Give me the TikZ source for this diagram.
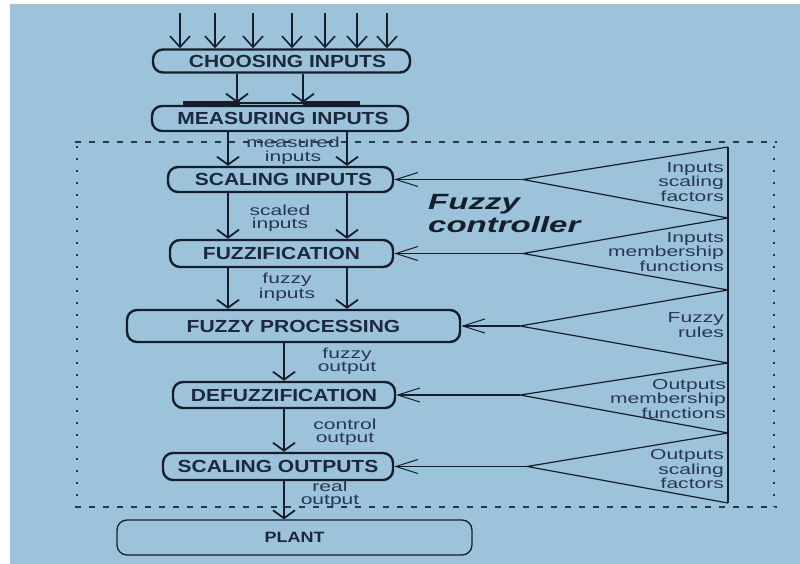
\documentclass[tikz,border=0pt]{standalone}
\usepackage{fontspec}
\setmainfont{Liberation Sans}
\newfontfamily\boxfont[FakeStretch=1.2]{Liberation Sans}
\newfontfamily\lblfont[FakeStretch=1.45]{Liberation Sans}
\newfontfamily\ttlfont[FakeStretch=1.5]{Liberation Sans}
\usetikzlibrary{arrows.meta,calc}
\definecolor{bgblue}{RGB}{157,195,218}
\definecolor{linec}{RGB}{22,30,44}
\definecolor{boxtxt}{RGB}{28,40,60}
\definecolor{lbltxt}{RGB}{40,55,82}
\definecolor{framec}{RGB}{40,55,75}
\begin{document}
\begin{tikzpicture}[x=1pt,y=-1pt,
  procbox/.style={draw=linec,line width=2.4pt,rounded corners=10pt,inner sep=0pt,text=boxtxt,
    font=\boxfont\bfseries\fontsize{17.5}{18}\selectfont},
  plantbox/.style={draw=linec,line width=1.3pt,rounded corners=10pt,inner sep=0pt,text=boxtxt,
    font=\boxfont\bfseries\fontsize{15}{16}\selectfont},
  flow/.style={draw=linec,line width=2.2pt,-{Straight Barb[length=8pt,width=22pt,line width=1.8pt]}},
  inarrow/.style={draw=linec,line width=1.8pt,-{Straight Barb[length=11pt,width=20pt,line width=1.6pt]}},
  feed/.style={draw=linec,line width=1.2pt},
  feedarrow/.style={feed,-{Straight Barb[length=22pt,width=14pt,line width=1pt]}},
  lbl/.style={text=lbltxt,align=center,inner sep=0pt,font=\lblfont\fontsize{14.5}{13.5}\selectfont},
  rlbl/.style={lbl,align=right,anchor=east},
  framedash/.style={draw=framec,line width=1.2pt,dash pattern=on 6pt off 8pt},
  framedot/.style={draw=framec,line width=1.2pt,dash pattern=on 2pt off 10pt},
]
\useasboundingbox (0,0) rectangle (800,564);
\fill[white] (0,0) rectangle (800,564);
\fill[bgblue] (10,4) rectangle (800,564);

% boxes
\node[procbox,minimum width=257pt,minimum height=23pt] (choose) at (281.5,61) {\hspace{12pt}CHOOSING INPUTS};
\node[procbox,minimum width=256pt,minimum height=25pt] (measure) at (280,118.5) {\hspace{6pt}MEASURING INPUTS};
\node[procbox,minimum width=225pt,minimum height=25pt] (scalein) at (280.5,179.5) {\hspace{6pt}SCALING INPUTS};
\node[procbox,minimum width=223pt,minimum height=27pt] (fuzzif) at (281.5,253.5) {FUZZIFICATION};
\node[procbox,minimum width=333pt,minimum height=32pt] (fproc) at (293.5,326) {FUZZY PROCESSING};
\node[procbox,minimum width=222pt,minimum height=26pt] (defuzz) at (284,395) {DEFUZZIFICATION};
\node[procbox,minimum width=230pt,minimum height=27pt] (scaleout) at (278,466.5) {SCALING OUTPUTS};
\node[plantbox,minimum width=355pt,minimum height=35pt] (plant) at (294.5,537.5) {PLANT};

% frame of the fuzzy controller
\draw[framedash] (75,142) -- (777,142);
\draw[framedash] (75,507) -- (777,507);
\draw[framedot] (77,146) -- (77,507);
\draw[framedot] (774,146) -- (774,507);

% input arrows
\foreach \xx [count=\i] in {180,215,253,292,325,357,387} {
  \coordinate (in\i) at (\xx,13);
  \draw[inarrow] (in\i) -- (choose.north -| in\i);
}

% bar on top of measuring inputs
\draw[linec,line width=4pt] (183,103) -- (240,103);
\draw[linec,line width=1.5pt] (240,103) -- (303,103);
\draw[linec,line width=4pt] (303,103) -- (360,103);

% vertical x positions
\coordinate (xa) at (237,0);
\coordinate (xb) at (303,0);
\coordinate (xc) at (228,0);
\coordinate (xd) at (347,0);
\coordinate (xe) at (284,0);

\draw[flow] (choose.south -| xa) -- ($(measure.north -| xa)+(0,-2)$);
\draw[flow] (choose.south -| xb) -- ($(measure.north -| xb)+(0,-2)$);
\draw[flow] (measure.south -| xc) -- (scalein.north -| xc);
\draw[flow] (measure.south -| xd) -- (scalein.north -| xd);
\draw[flow] (scalein.south -| xc) -- (fuzzif.north -| xc);
\draw[flow] (scalein.south -| xd) -- (fuzzif.north -| xd);
\draw[flow] (fuzzif.south -| xc) -- (fproc.north -| xc);
\draw[flow] (fuzzif.south -| xd) -- (fproc.north -| xd);
\draw[flow] (fproc.south -| xe) -- (defuzz.north -| xe);
\draw[flow] (defuzz.south -| xe) -- (scaleout.north -| xe);
\draw[flow] (scaleout.south -| xe) -- (plant.north -| xe);

% flow labels
\node[lbl] (l1) at (293,151) {measured\\inputs};
\node[lbl] (l2) at (280,218.5) {scaled\\inputs};
\node[lbl] (l3) at (287,287) {fuzzy\\inputs};
\node[lbl] (l4) at (347,361.5) {fuzzy\\output};
\node[lbl] (l5) at (345,432) {control\\output};
\node[lbl] (l6) at (330,494) {real\\output};

% title
\node[anchor=west,align=left,inner sep=0pt,text=linec,
  font=\ttlfont\bfseries\itshape\fontsize{22}{23}\selectfont] (title) at (428,213.5) {Fuzzy\\controller};

% right side knowledge base
\coordinate (r0) at (728,147);
\coordinate (r1) at (728,218);
\coordinate (r2) at (728,290);
\coordinate (r3) at (728,363);
\coordinate (r4) at (728,433);
\coordinate (r5) at (728,503);
\draw[feed] (r0) -- (r5);
\coordinate (a1) at (523,179.5);
\coordinate (a2) at (523,253.5);
\coordinate (a3) at (520,326);
\coordinate (a4) at (520,395);
\coordinate (a5) at (527,466.5);
\draw[feed] (r0) -- (a1) -- (r1);
\draw[feed] (r1) -- (a2) -- (r2);
\draw[feed] (r2) -- (a3) -- (r3);
\draw[feed] (r3) -- (a4) -- (r4);
\draw[feed] (r4) -- (a5) -- (r5);
\draw[feedarrow] (a1) -- (scalein.east);
\draw[feedarrow] (a2) -- (fuzzif.east);
\draw[feedarrow] (a3) -- (fproc.east);
\draw[feedarrow] (a4) -- (defuzz.east);
\draw[feedarrow] (a5) -- (scaleout.east);

\node[rlbl] (k1) at (724,182) {Inputs\\scaling\\factors};
\node[rlbl] (k2) at (724,252) {Inputs\\membership\\functions};
\node[rlbl] (k3) at (724,325) {Fuzzy\\rules};
\node[rlbl] (k4) at (726,399) {Outputs\\membership\\functions};
\node[rlbl] (k5) at (724,469) {Outputs\\scaling\\factors};
\end{tikzpicture}
\end{document}
